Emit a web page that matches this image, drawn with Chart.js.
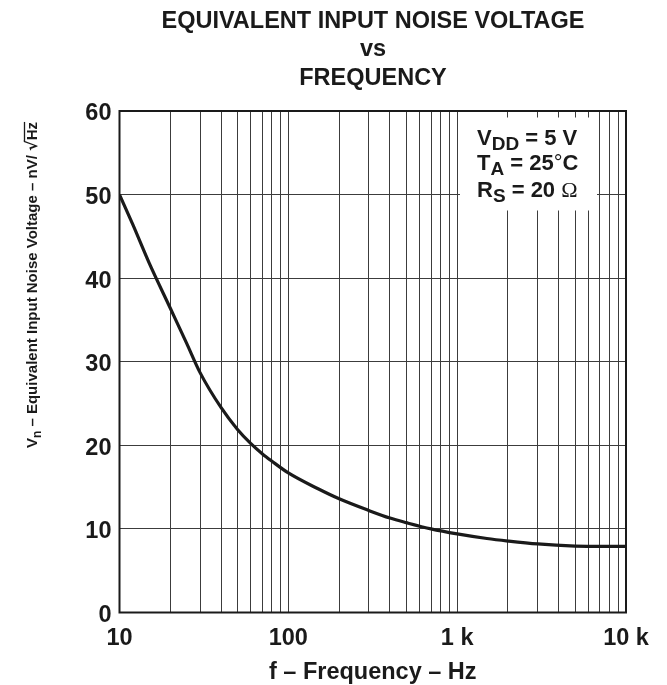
<!DOCTYPE html>
<html><head><meta charset="utf-8">
<script src="https://cdn.jsdelivr.net/npm/chart.js@4.4.1/dist/chart.umd.min.js"></script>
<style>html,body{margin:0;padding:0;background:#fff;}#wrap{width:667px;height:685px;}</style>
</head><body><div id="wrap"><canvas id="c" width="667" height="685"></canvas></div>
<script>
// ---- data ----
const frequencies  = [10, 12, 15, 20, 25, 30, 40, 50, 60, 70, 80, 100, 150, 200, 300, 400, 500, 700, 1000, 1500, 2000, 3000, 5000, 7000, 10000];
const noiseVoltage = [50, 46.4, 41.8, 36.4, 32.2, 28.7, 24.5, 21.9, 20.2, 19.0, 18.1, 16.7, 14.8, 13.6, 12.2, 11.3, 10.75, 10.0, 9.4, 8.85, 8.55, 8.2, 7.95, 7.9, 7.9];
const gridFrequencies = [10,20,30,40,50,60,70,80,90,100,200,300,400,500,600,700,800,900,1000,2000,3000,4000,5000,6000,7000,8000,9000,10000];
const xTickValues = [10, 100, 1000, 10000];
const xTickTexts  = ['10', '100', '1 k', '10 k'];
const yTickValues = [0, 10, 20, 30, 40, 50, 60];
const titleLines = ['EQUIVALENT INPUT NOISE VOLTAGE', 'vs', 'FREQUENCY'];
const xAxisTitle = 'f \u2013 Frequency \u2013 Hz';
const conditionLines = [
  [['V','main'],['DD','sub'],[' = 5 V','main']],
  [['T','main'],['A','sub'],[' = 25','main'],['\u00B0','thin'],['C','main']],
  [['R','main'],['S','sub'],[' = 20 ','main'],['\u03A9','omega']]
];

const FAM = '"Liberation Sans", Arial, Helvetica, sans-serif';
const INK = '#1a1a1a';

const deco = {
  id: 'deco',
  beforeDatasetsDraw(chart) {
    const a = chart.chartArea, ctx = chart.ctx;
    ctx.save();
    ctx.fillStyle = '#ffffff';
    ctx.fillRect(a.right - 166, a.top + 6.5, 137, 93);
    ctx.restore();
  },
  afterDraw(chart) {
    const a = chart.chartArea, ctx = chart.ctx;
    ctx.save();
    ctx.strokeStyle = INK; ctx.lineWidth = 2;
    ctx.strokeRect(a.left, a.top, a.right - a.left, a.bottom - a.top);
    ctx.fillStyle = INK;
    ctx.font = 'bold 23.5px ' + FAM;
    ctx.textAlign = 'center'; ctx.textBaseline = 'alphabetic';
    const cx = 373;
    const tb = [28, 56.3, 84.6];
    titleLines.forEach((t, i) => ctx.fillText(t, cx, tb[i]));
    ctx.fillText(xAxisTitle, (a.left + a.right) / 2, 679);
    ctx.textAlign = 'left';
    const fonts = {
      main: 'bold 22px ' + FAM,
      sub: 'bold 19px ' + FAM,
      thin: '22px ' + FAM,
      omega: '22px "Liberation Serif", "DejaVu Serif", serif'
    };
    const base = [34, 59, 86];
    conditionLines.forEach((parts, i) => {
      let x = a.right - 149;
      const y = a.top + base[i];
      parts.forEach(([t, k]) => {
        ctx.font = fonts[k];
        ctx.fillText(t, x, k === 'sub' ? y + 5 : y);
        x += ctx.measureText(t).width;
      });
    });
    ctx.translate(32, 285);
    ctx.rotate(-Math.PI / 2);
    const yParts = [
      ['V', 'bold 15px ' + FAM, 0],
      ['n', 'bold 12px ' + FAM, 4],
      [' \u2013 Equivalent Input Noise Voltage \u2013 nV/ ', 'bold 15px ' + FAM, 0],
      ['\u221A', 'bold 16px "DejaVu Sans", ' + FAM, 0],
      ['Hz', 'bold 15px ' + FAM, 0]
    ];
    let total = 0;
    yParts.forEach(p => { ctx.font = p[1]; total += ctx.measureText(p[0]).width; });
    let x = -total / 2;
    const yb = 5;
    let hzStart = 0, hzEnd = 0;
    yParts.forEach(p => {
      ctx.font = p[1];
      const w = ctx.measureText(p[0]).width;
      if (p[0] === 'Hz') { hzStart = x - 1; hzEnd = x + w; }
      ctx.fillText(p[0], x, yb + p[2]);
      x += w;
    });
    ctx.lineWidth = 1.3;
    ctx.beginPath();
    ctx.moveTo(hzStart, yb - 12.5);
    ctx.lineTo(hzEnd, yb - 12.5);
    ctx.stroke();
    ctx.restore();
  }
};

new Chart(document.getElementById('c'), {
  type: 'line',
  data: {
    datasets: [{
      data: frequencies.map((f, i) => ({ x: f, y: noiseVoltage[i] })),
      borderColor: INK,
      borderWidth: 3.2,
      pointRadius: 0,
      fill: false,
      cubicInterpolationMode: 'monotone'
    }]
  },
  options: {
    responsive: false,
    animation: false,
    devicePixelRatio: 1,
    layout: { padding: { top: 111, right: 41, left: 0, bottom: 0 } },
    plugins: { legend: { display: false }, title: { display: false }, tooltip: { enabled: false } },
    scales: {
      x: {
        type: 'logarithmic',
        min: 10, max: 10000,
        afterFit: s => { s.height = 72.5; },
        afterBuildTicks: s => { s.ticks = gridFrequencies.map(v => ({ value: v })); },
        grid: { color: '#3c3c3c', lineWidth: 1, drawTicks: false },
        border: { display: false },
        ticks: {
          autoSkip: false, maxRotation: 0, minRotation: 0, padding: 11.5,
          color: INK, font: { family: FAM, size: 23.5, weight: 'bold' },
          callback: v => { const i = xTickValues.indexOf(v); return i >= 0 ? xTickTexts[i] : ''; }
        }
      },
      y: {
        min: 0, max: 60,
        afterFit: s => { s.width = 119.5; },
        afterBuildTicks: s => { s.ticks = yTickValues.map(v => ({ value: v })); },
        grid: { color: '#3c3c3c', lineWidth: 1, drawTicks: false },
        border: { display: false },
        ticks: {
          padding: 8, labelOffset: 3,
          color: INK, font: { family: FAM, size: 23.5, weight: 'bold' }
        }
      }
    }
  },
  plugins: [deco]
});
</script></body></html>
